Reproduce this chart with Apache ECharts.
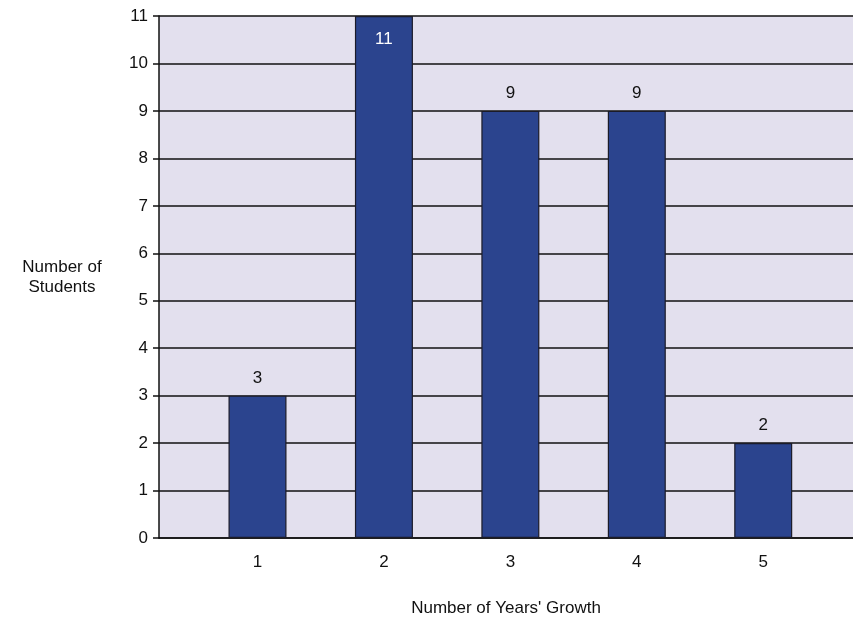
<!DOCTYPE html>
<html>
<head>
<meta charset="utf-8">
<script src="https://cdn.jsdelivr.net/npm/echarts@6/dist/echarts.min.js"></script>
<style>
  html, body { margin: 0; padding: 0; background: #fff; }
  #main { width: 853px; height: 617px; }
</style>
</head>
<body>
<div id="main"></div>
<script>
// years of growth and how many students had each
const years = [1, 2, 3, 4, 5];
const students = [3, 11, 9, 9, 2];
const yTicks = [0, 1, 2, 3, 4, 5, 6, 7, 8, 9, 10, 11];

const font = '"Liberation Sans Narrow", "Liberation Sans", sans-serif';

const chart = echarts.init(document.getElementById('main'));

const barData = years.map((y, i) => ({
  value: [y, students[i]],
  label: students[i] === 11
    ? { position: 'insideTop', color: '#fff', distance: 15 }
    : { position: 'top', color: '#111', distance: 9 }
}));

const option = {
  animation: false,
  textStyle: { fontFamily: font },
  grid: {
    left: 159,
    right: 0,
    top: 16,
    bottom: 79,
    outerBoundsMode: 'none',
    containLabel: false,
    show: true,
    backgroundColor: '#e3e0ee',
    borderWidth: 0
  },
  xAxis: {
    type: 'value',
    min: 0.221,
    max: 5.71,
    name: "Number of Years' Growth",
    nameLocation: 'middle',
    nameGap: 62,
    nameTextStyle: { fontSize: 17, color: '#111', fontFamily: font },
    axisLine: { show: true, onZero: false, lineStyle: { color: '#111', width: 1.5 } },
    axisTick: { show: false },
    splitLine: { show: false },
    axisLabel: {
      customValues: years,
      fontSize: 17,
      color: '#111',
      margin: 16,
      fontFamily: font
    }
  },
  yAxis: {
    type: 'value',
    min: 0,
    max: 11,
    interval: 1,
    name: 'Number of\nStudents',
    nameLocation: 'middle',
    nameRotate: 0,
    nameGap: 97,
    nameTextStyle: { fontSize: 17, color: '#111', fontFamily: font, align: 'center', lineHeight: 20 },
    axisLine: { show: true, lineStyle: { color: '#111', width: 1.5 } },
    axisTick: { show: true, length: 6, lineStyle: { color: '#111', width: 1.5 } },
    splitLine: { show: true, lineStyle: { color: '#111', width: 1.5 } },
    axisLabel: {
      fontSize: 17,
      color: '#111',
      margin: 11,
      fontFamily: font,
      formatter: v => (yTicks.includes(v) ? String(v) : '')
    }
  },
  series: [{
    type: 'bar',
    barWidth: 58,
    data: barData,
    itemStyle: { color: '#2b448e', borderColor: '#1b1b28', borderWidth: 1.2 },
    label: {
      show: true,
      fontSize: 17,
      fontFamily: font,
      formatter: p => String(p.value[1])
    }
  }]
};

chart.setOption(option);
</script>
</body>
</html>
